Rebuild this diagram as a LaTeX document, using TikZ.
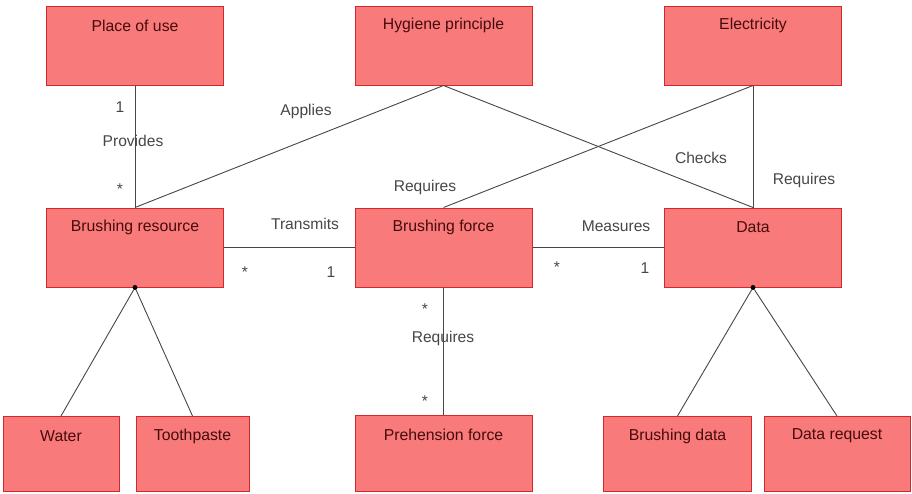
\documentclass[tikz,border=0pt]{standalone}
\usepackage{fontspec}
\setmainfont{Liberation Sans}
\definecolor{boxfill}{RGB}{248,122,122}
\definecolor{boxdraw}{RGB}{214,40,40}
\definecolor{boxtext}{RGB}{70,12,12}
\definecolor{linec}{RGB}{70,70,70}
\begin{document}
\begin{tikzpicture}[x=1pt,y=-1pt,
  box/.style={draw=boxdraw, fill=boxfill, line width=1pt, minimum width=177pt, minimum height=79pt, inner sep=0pt},
  small/.style={box, minimum width=116pt, minimum height=75pt},
  lbl/.style={anchor=center, yshift=-20pt, text=boxtext, font=\fontsize{15.8}{17}\selectfont, inner sep=0pt},
  conn/.style={draw=linec, line width=0.9pt},
  tag/.style={text=linec, font=\fontsize{15.6}{17}\selectfont, inner sep=1pt},
  joint/.style={circle, fill=black, inner sep=0pt, minimum size=5pt}
]
\useasboundingbox (0,0) rectangle (912,493);

% top row
\node[box, label={[lbl]north:Place of use}] (pou) at (135,45.5) {};
\node[box, label={[lbl]north:Hygiene principle}] (hyg) at (443.5,45.5) {};
\node[box, label={[lbl]north:Electricity}] (ele) at (753,45.5) {};
% middle row
\node[box, label={[lbl]north:Brushing resource}] (bres) at (135,247.5) {};
\node[box, label={[lbl]north:Brushing force}] (bfor) at (443.5,247.5) {};
\node[box, label={[lbl]north:Data}] (data) at (753,247.5) {};
% bottom row
\node[small, label={[lbl]north:Water}] (water) at (61,454) {};
\node[small, minimum width=113pt, label={[lbl]north:Toothpaste}] (tooth) at (192.5,454) {};
\node[box, minimum height=76pt, label={[lbl]north:Prehension force}] (preh) at (443.5,453.5) {};
\node[small, minimum width=148pt, label={[lbl]north:Brushing data}] (bdat) at (677.5,454) {};
\node[small, minimum width=146pt, label={[lbl]north:Data request}] (dreq) at (837,454) {};

% associations
\draw[conn] (pou.south) -- (bres.north);
\draw[conn] (hyg.south) -- (bres.north);
\draw[conn] (hyg.south) -- (data.north);
\draw[conn] (ele.south) -- (bfor.north);
\draw[conn] (ele.south) -- (data.north);
\draw[conn] (bres.east) -- (bfor.west);
\draw[conn] (bfor.east) -- (data.west);
\draw[conn] (bfor.south) -- (preh.north);

% compositions
\node[joint] (j1) at (bres.south) {};
\node[joint] (j2) at (data.south) {};
\draw[conn] (j1) -- (water.north);
\draw[conn] (j1) -- (tooth.north);
\draw[conn] (j2) -- (bdat.north);
\draw[conn] (j2) -- (dreq.north);

% labels
\node[tag] (t1) at (120,107) {1};
\node[tag] (t2) at (133,141) {Provides};
\node[tag] (t3) at (120,189) {*};
\node[tag] (t4) at (306,111) {Applies};
\node[tag] (t5) at (425,187) {Requires};
\node[tag] (t6) at (701,158) {Checks};
\node[tag] (t7) at (804,180) {Requires};
\node[tag] (t8) at (305,224) {Transmits};
\node[tag] (t9) at (245,272) {*};
\node[tag] (t10) at (331,272) {1};
\node[tag] (t11) at (616,226) {Measures};
\node[tag] (t12) at (557,267) {*};
\node[tag] (t13) at (645,268) {1};
\node[tag] (t14) at (425,309) {*};
\node[tag] (t15) at (443,338) {Requires};
\node[tag] (t16) at (425,401) {*};
\end{tikzpicture}
\end{document}
